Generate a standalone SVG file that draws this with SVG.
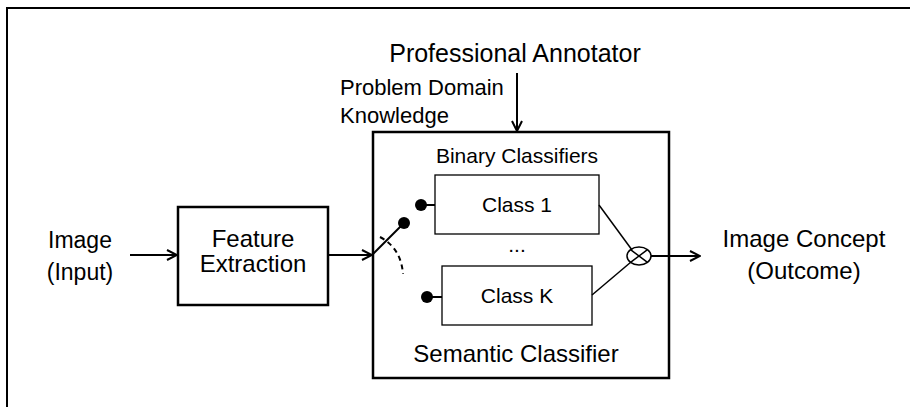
<svg xmlns="http://www.w3.org/2000/svg" width="910" height="407" viewBox="0 0 910 407">
<style>
text{font-family:"Liberation Sans",Arial,sans-serif;fill:#000}
.big{font-size:24px}
.mid{font-size:21px}
.box{fill:#fff;stroke:#000;stroke-width:2.5}
.cls{fill:#fff;stroke:#000;stroke-width:1.3}
.ln{stroke:#000;stroke-width:2;fill:none}
.thin{stroke:#000;stroke-width:1.5;fill:none}
</style>
<defs>
<marker id="ah" viewBox="0 0 12 12" refX="11" refY="6" markerWidth="12" markerHeight="12" markerUnits="userSpaceOnUse" orient="auto">
<path d="M1,1 L11,6 L1,11" fill="none" stroke="#000" stroke-width="2"/>
</marker>
</defs>
<g id="frame">
<path d="M7,407 V8 H910" fill="none" stroke="#000" stroke-width="2"/>
</g>
<g id="annotator">
<text x="515" y="62" text-anchor="middle" style="font-size:25px">Professional Annotator</text>
</g>
<g id="domain">
<text x="340" y="95" style="font-size:22px">Problem Domain</text>
<text x="340" y="123" style="font-size:22px">Knowledge</text>
</g>
<g id="input">
<text x="80" y="248" text-anchor="middle" style="font-size:23px">Image</text>
<text x="80" y="280" text-anchor="middle" style="font-size:23px">(Input)</text>
</g>
<g id="feature">
<rect class="box" x="178" y="207" width="150" height="98"/>
<text class="big" x="253" y="247" text-anchor="middle">Feature</text>
<text class="big" x="253" y="272" text-anchor="middle">Extraction</text>
</g>
<g id="semantic">
<rect class="box" x="373" y="132" width="296" height="246"/>
<text class="mid" x="517" y="163" text-anchor="middle">Binary Classifiers</text>
<text class="big" x="516" y="362" text-anchor="middle">Semantic Classifier</text>
</g>
<g id="class1">
<rect class="cls" x="435" y="175" width="164" height="59"/>
<text class="mid" x="517" y="212" text-anchor="middle">Class 1</text>
</g>
<g id="dots">
<text class="mid" x="517" y="252" text-anchor="middle">...</text>
</g>
<g id="classK">
<rect class="cls" x="442" y="266" width="150" height="59"/>
<text class="mid" x="517" y="303" text-anchor="middle">Class K</text>
</g>
<g id="combiner">
<ellipse cx="639" cy="256" rx="12" ry="9" fill="#fff" stroke="#000" stroke-width="1.5"/>
<path d="M630.5,249.6 L647.5,262.4 M630.5,262.4 L647.5,249.6" class="thin"/>
</g>
<g id="output">
<text class="big" x="804" y="247" text-anchor="middle">Image Concept</text>
<text class="big" x="804" y="279" text-anchor="middle">(Outcome)</text>
</g>
<g id="connectors">
<line class="ln" x1="517" y1="73" x2="517" y2="131" marker-end="url(#ah)"/>
<line class="ln" x1="130" y1="255" x2="177" y2="255" marker-end="url(#ah)"/>
<line class="ln" x1="328" y1="255" x2="372" y2="255" marker-end="url(#ah)"/>
<line class="ln" x1="372" y1="255" x2="404" y2="223"/>
<circle cx="404" cy="223" r="6"/>
<line class="ln" x1="421" y1="205" x2="435" y2="205"/>
<circle cx="421" cy="205" r="6"/>
<line class="ln" x1="427" y1="297" x2="442" y2="297"/>
<circle cx="427" cy="297" r="6"/>
<path d="M380,237 Q401,248 403,274" class="ln" stroke-dasharray="5,4"/>
<line class="thin" x1="599" y1="205" x2="632" y2="250"/>
<line class="thin" x1="592" y1="295" x2="631" y2="262"/>
<line class="ln" x1="651" y1="256" x2="700" y2="256" marker-end="url(#ah)"/>
</g>
</svg>
